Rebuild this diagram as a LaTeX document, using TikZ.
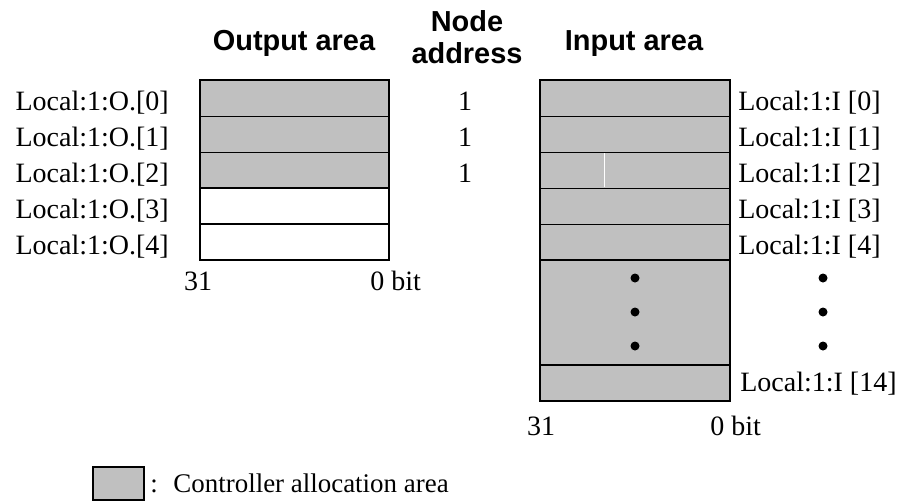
\documentclass[tikz,border=0pt]{standalone}
\usepackage{fontspec}
\setmainfont{Liberation Serif}
\setsansfont{Liberation Sans}
\usepackage{xcolor}
\usetikzlibrary{positioning}
\definecolor{cellgray}{HTML}{C0C0C0}
\tikzset{
	cell/.style={draw=black, line width=0.75pt},
	frame/.style={draw=black, line width=1.6pt},
	lbl/.style={font=\fontsize{21}{23}\selectfont, inner sep=0pt},
	head/.style={font=\sffamily\bfseries\fontsize{21.7}{23.5}\selectfont, align=center, inner sep=0pt},
}

\begin{document}
\begin{tikzpicture}[x=0.75pt, y=-0.75pt]
			\useasboundingbox (0, 0) rectangle (902, 501);
			% Headers:
			\node[head, anchor=base] (hout) at (294, 50){Output area};
			\node[head, anchor=base] (hnode) at (467, 63){Node\\address};
			\node[head, anchor=base] (hin) at (634, 50){Input area};
			% Output area:
			\fill[cellgray] (200, 80) rectangle (389, 188);
			\draw[cell] (200, 116) -- (389, 116);
			\draw[cell] (200, 152) -- (389, 152);
			\draw[frame] (200, 188) -- (389, 188);
			\draw[frame] (200, 224) -- (389, 224);
			\draw[frame] (200, 80) rectangle (389, 260);
			\node[lbl, anchor=base east] (out0) at (169, 110){Local:1:O.[0]};
			\node[lbl, anchor=base east] (out1) at (169, 146){Local:1:O.[1]};
			\node[lbl, anchor=base east] (out2) at (169, 182){Local:1:O.[2]};
			\node[lbl, anchor=base east] (out3) at (169, 218){Local:1:O.[3]};
			\node[lbl, anchor=base east] (out4) at (169, 254){Local:1:O.[4]};
			\node[lbl, anchor=base] (outmsb) at (198, 290){31};
			\node[lbl, anchor=base west] (outlsb) at (370, 290){0 bit};
			% Node addresses:
			\node[lbl, anchor=base] (addr0) at (465, 110){1};
			\node[lbl, anchor=base] (addr1) at (465, 146){1};
			\node[lbl, anchor=base] (addr2) at (465, 182){1};
			% Input area:
			\fill[cellgray] (540, 80) rectangle (730, 401);
			\draw[cell] (540, 116) -- (730, 116);
			\draw[cell] (540, 152) -- (730, 152);
			\draw[cell] (540, 188) -- (730, 188);
			\draw[cell] (540, 224) -- (730, 224);
			\draw[frame] (540, 260) -- (730, 260);
			\draw[frame] (540, 365) -- (730, 365);
			\draw[white, line width=0.6pt] (604, 153) -- (604, 187);
			\draw[frame] (540, 80) rectangle (730, 401);
			\node[lbl, anchor=base west] (in0) at (738, 110){Local:1:I [0]};
			\node[lbl, anchor=base west] (in1) at (738, 146){Local:1:I [1]};
			\node[lbl, anchor=base west] (in2) at (738, 182){Local:1:I [2]};
			\node[lbl, anchor=base west] (in3) at (738, 218){Local:1:I [3]};
			\node[lbl, anchor=base west] (in4) at (738, 254){Local:1:I [4]};
			\node[lbl, anchor=base west] (in14) at (740, 391){Local:1:I [14]};
			\fill (635, 278) circle (4.5) (635, 312) circle (4.5) (635, 346) circle (4.5);
			\fill (823, 278) circle (4.5) (823, 312) circle (4.5) (823, 346) circle (4.5);
			\node[lbl, anchor=base] (inmsb) at (541, 435){31};
			\node[lbl, anchor=base west] (inlsb) at (710, 435){0 bit};
			% Legend:
			\filldraw[fill=cellgray, draw=black, line width=1pt] (93, 467) rectangle (144, 500);
			\node[lbl, font=\fontsize{20.2}{22}\selectfont, anchor=base west] (legend) at (150, 492){:~ Controller allocation area};
		\end{tikzpicture}
\end{document}
